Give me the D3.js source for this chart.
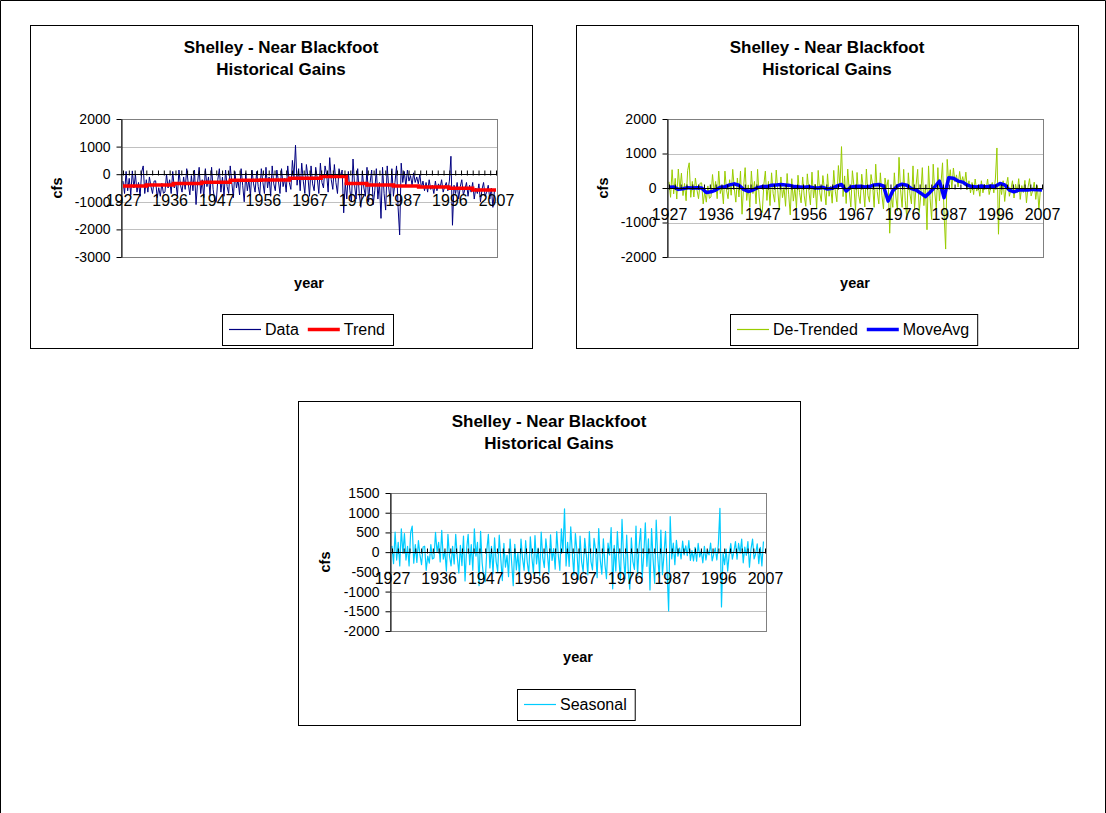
<!DOCTYPE html>
<html>
<head>
<meta charset="utf-8">
<script src="https://cdn.jsdelivr.net/npm/d3@7"></script>
<style>
body { margin: 0; background: #fff; }
svg text { font-family: "Liberation Sans", Arial, sans-serif; fill: #000; }
</style>
</head>
<body>
<svg id="page" width="1106" height="813"></svg>
<script>
// category labels on the x axis (one every 10 position units)
var xLabels = ["1927", "1936", "1947", "1956", "1967", "1976", "1987", "1996", "2007"];

// gains, 3 readings per position unit, 80 units
var gainData = [
  -250, -700, 100, -600, -150, -750, 120, -500, 0, -650, -300, -800, 80, 300, -700,
  -200, -650, -100, -450, -700, -250, -240, -850, -490, -800, -330, -690, -650, 0, -500,
  -200, -700, 100, -500, -300, -800, 150, -400, -650, -100, -550, 200, -350, -750, -50,
  -600, 150, -1100, -300, 250, -700, -200, -850, 200, -450, -100, -750, 250, -550, -950,
  -1000, -200, 200, -650, -100, -800, 150, -450, -700, 300, -300, -850, 100, -500, -200,
  -750, 200, -400, -1000, 50, -600, -200, -800, 150, -350, -650, 100, -450, -750, 200,
  -300, -700, 250, -500, -100, -800, 300, -350, -600, 150, -250, -700, 200, -450, -150,
  -650, 300, -300, -550, 500, -100, 1050, -400, 200, -600, 400, -250, -700, 350, -100,
  -800, 300, -350, -600, 250, -150, -700, 400, -300, -500, 300, 0, -650, 600, -200,
  -550, 350, -300, -700, 200, -100, 150, -1400, -300, -900, 100, -600, -1000, 550, -400,
  -900, 200, -700, -1200, 100, -500, -800, 250, -1000, -300, 150, -1100, -600, 200, -900,
  -300, -1600, 250, -700, -1300, 300, -500, -1000, 200, -800, -300, 300, -1200, -2200, 400,
  -300, 100, -450, 150, -250, -50, -400, 50, -300, -100, -350, 0, -500, -250, -600,
  -300, -650, -200, -550, -400, -700, -250, -600, -350, -500, -200, -650, -450, -300, -600,
  -250, 650, -1850, -400, -700, -300, -900, -450, -200, -750, -550, -300, -800, -400, -650,
  -300, -900, -500, -700, -350, -1000, -550, -300, -800, -650, -400, -900, -500, -1200, -600
];

// trend: step starts (position units) and levels
var trendStart = [0, 5, 10.8, 16.9, 23, 29.5, 35.7, 42.5, 47.9, 52.3, 58, 63.4, 69.9, 75, 80];
var trendLevel = [-427, -390, -341, -293, -220, -207, -146, -85, -341, -390, -427, -463, -512, -573, -573];

var deTrended = [
  180, -270, 530, -170, 280, -320, 550, -70, 430, -220, 130, -370, 510, 730, -270,
  190, -260, 290, -60, -310, 140, 150, -460, -100, -410, 60, -300, -260, 390, -110,
  190, -310, 490, -160, 40, -460, 490, -60, -310, 240, -210, 540, -10, -410, 290,
  -260, 490, -760, 40, 590, -360, 90, -560, 490, -160, 190, -460, 540, -260, -660,
  -710, 90, 490, -360, 190, -510, 440, -160, -410, 520, -80, -630, 320, -280, 20,
  -530, 420, -180, -780, 270, -380, 20, -580, 370, -130, -430, 320, -230, -530, 410,
  -90, -490, 460, -290, 110, -590, 510, -140, -390, 360, -40, -490, 410, -240, 60,
  -440, 510, -90, -400, 650, 50, 1200, -250, 350, -450, 550, -100, -550, 500, 50,
  -650, 450, -200, -450, 400, 0, -550, 550, -210, -410, 390, 90, -560, 690, -110,
  -460, 440, -210, -610, 290, -10, 240, -1310, -210, -560, 440, -260, -660, 890, -60,
  -560, 540, -360, -860, 440, -160, -460, 640, -610, 90, 540, -710, -210, 590, -510,
  90, -1210, 640, -310, -910, 690, -110, -610, 590, -370, 130, 730, -770, -1770, 830,
  130, 530, -20, 580, 180, 380, 30, 480, 130, 330, 80, 460, -40, 210, -140,
  160, -190, 260, -90, 60, -240, 210, -140, 110, -40, 260, -190, 10, 160, -140,
  260, 1160, -1340, 110, -190, 210, -390, 60, 310, -240, -40, 210, -290, 110, -140,
  270, -330, 70, -130, 220, -430, 20, 270, -230, -80, 170, -330, 70, -630, -30
];

// moving average, one reading per position unit
var moveAvg = [
  20, 30, -40, -20, 10, 0, 10, 0, -130, -110,
  -60, 20, 40, 90, 120, 80, -40, -100, -60, 10,
  40, 40, 80, 90, 100, 90, 70, 40, 30, 20,
  40, 10, 0, 20, -30, -10, 60, 100, -90, 30,
  40, 50, 30, 40, 90, 100, 60, -380, -80, 60,
  110, 80, -20, -60, -150, -250, -120, 30, 200, -280,
  300, 280, 200, 170, 80, 40, 30, 60, 30, 60,
  50, 130, 90, -60, -110, -60, -50, -60, -40, -50,
  -60
];

var seasonal = [
  160, -290, 510, -200, 250, -350, 590, -30, 470, -200, 150, -350, 500, 660, -280,
  190, -260, 290, -70, -320, 130, 150, -460, -100, -280, 190, -170, -150, 500, 0,
  250, -250, 550, -180, 20, -480, 450, -100, -350, 150, -300, 450, -130, -530, 170,
  -340, 410, -730, 80, 450, -320, 190, -460, 590, -100, 250, -850, 530, -270, -670,
  -750, 50, 450, -400, 150, -550, 360, -240, -490, 430, -170, -720, 220, -380, -80,
  -620, 330, -270, -850, 200, -450, -20, -620, 330, -160, -460, 290, -250, -550, 390,
  -130, -530, 420, -300, 100, -600, 510, -140, -390, 340, -60, -510, 440, -210, 90,
  -430, 520, -80, -460, 590, -10, 1100, -350, 250, -360, 640, -10, -580, 470, 20,
  -690, 410, -240, -500, 350, -50, -580, 520, -240, -450, 350, 50, -650, 600, -200,
  -560, 340, -310, -670, 230, -70, 620, -930, 170, -480, 520, -180, -720, 830, -120,
  -670, 430, -470, -940, 360, -240, -440, 660, -590, 150, 600, -650, -60, 740, -360,
  340, -960, 600, -190, -790, 810, -140, -640, 560, -570, -70, 530, -490, -1490, 900,
  -170, 230, -320, 300, -100, 100, -170, 280, -70, 160, -90, 290, -210, 40, -220,
  120, -230, 220, -120, 30, -270, 150, -200, 50, -70, 230, -220, -50, 100, -200,
  210, 1110, -1390, -20, -320, 80, -480, -30, 220, -180, 20, 270, -180, 220, -30,
  330, -270, 130, -80, 270, -380, 80, 330, -170, -40, 210, -290, 120, -350, 270
];

var titleLines = ["Shelley - Near Blackfoot", "Historical Gains"];

var svg = d3.select("#page");

// page frame
svg.append("path")
  .attr("d", "M0.5,813 V0.5 H1105.5 V813")
  .attr("fill", "none").attr("stroke", "#000");

function drawChart(cfg) {
  var g = svg.append("g");
  var L = cfg.plot[0], T = cfg.plot[1], R = cfg.plot[2], B = cfg.plot[3];

  g.append("rect")
    .attr("x", cfg.box[0] + 0.5).attr("y", cfg.box[1] + 0.5)
    .attr("width", cfg.box[2]).attr("height", cfg.box[3])
    .attr("fill", "#fff").attr("stroke", "#000");

  var x = d3.scaleLinear().domain([0, 80]).range([L + 2, R - 1]);
  var y = d3.scaleLinear().domain(cfg.yDomain).range([B, T]);

  g.append("rect")
    .attr("x", L + 0.5).attr("y", T + 0.5)
    .attr("width", R - L).attr("height", B - T)
    .attr("fill", "#fff").attr("stroke", "#808080");

  g.selectAll("line.grid")
    .data(cfg.yTicks.slice(1, -1))
    .enter().append("line")
    .attr("class", "grid")
    .attr("x1", L).attr("x2", R)
    .attr("y1", function(d) { return Math.round(y(d)) + 0.5; })
    .attr("y2", function(d) { return Math.round(y(d)) + 0.5; })
    .attr("stroke", "#c0c0c0");

  // series
  cfg.series.forEach(function(s) {
    var line = d3.line()
      .x(function(d, i) { return x(i * s.step); })
      .y(function(d) { return y(d); });
    g.append("path")
      .datum(s.values)
      .attr("d", line)
      .attr("fill", "none")
      .attr("stroke", s.color)
      .attr("stroke-width", s.width)
      .attr("stroke-linejoin", "round");
  });

  if (cfg.trend) {
    var tline = d3.line()
      .curve(d3.curveStepAfter)
      .x(function(d, i) { return x(trendStart[i]); })
      .y(function(d) { return y(d); });
    g.append("path")
      .datum(trendLevel)
      .attr("d", tline)
      .attr("fill", "none")
      .attr("stroke", "#ff0000")
      .attr("stroke-width", 3.5);
  }

  if (cfg.avg) {
    var aline = d3.line()
      .x(function(d, i) { return x(i); })
      .y(function(d) { return y(d); });
    g.append("path")
      .datum(moveAvg)
      .attr("d", aline)
      .attr("fill", "none")
      .attr("stroke", "#0000ff")
      .attr("stroke-width", 3.5)
      .attr("stroke-linejoin", "round");
  }

  // category axis along zero
  var y0 = Math.round(y(0)) + 0.5;
  g.append("line")
    .attr("x1", L).attr("x2", R)
    .attr("y1", y0).attr("y2", y0)
    .attr("stroke", "#000");
  var tickAxis = g.append("g")
    .attr("transform", "translate(0," + y0 + ")")
    .call(d3.axisTop(x).tickValues(d3.range(0, 80.01, 1.25)).tickSize(4).tickFormat(""));
  tickAxis.select(".domain").remove();
  tickAxis.selectAll("line").attr("stroke", "#000").attr("y2", -4).attr("y1", 1);

  var labAxis = g.append("g")
    .attr("transform", "translate(0," + y0 + ")")
    .call(d3.axisBottom(x)
      .tickValues(d3.range(0, 81, 10))
      .tickSize(0)
      .tickPadding(20)
      .tickFormat(function(d, i) { return xLabels[i]; }));
  labAxis.select(".domain").remove();
  labAxis.selectAll("text")
    .attr("font-size", "16px")
    .attr("font-family", "Liberation Sans, Arial, sans-serif")
    .attr("fill", "#000");

  // value axis
  var yAxis = g.append("g")
    .attr("transform", "translate(" + (L + 0.5) + ",0)")
    .call(d3.axisLeft(y)
      .tickValues(cfg.yTicks)
      .tickSize(5)
      .tickSizeOuter(0)
      .tickPadding(6)
      .tickFormat(function(d) { return String(d); }));
  yAxis.select(".domain").attr("stroke", "#000");
  yAxis.selectAll("line").attr("stroke", "#000");
  yAxis.selectAll("text")
    .attr("font-size", "14px")
    .attr("font-family", "Liberation Sans, Arial, sans-serif")
    .attr("fill", "#000");

  // title
  var cx = cfg.box[0] + cfg.box[2] / 2;
  g.selectAll("text.title")
    .data(titleLines)
    .enter().append("text")
    .attr("class", "title")
    .attr("x", cx)
    .attr("y", function(d, i) { return cfg.titleY + i * 22; })
    .attr("text-anchor", "middle")
    .attr("font-size", "17px")
    .attr("font-weight", "bold")
    .text(function(d) { return d; });

  // axis titles
  g.append("text")
    .attr("x", (L + R) / 2).attr("y", cfg.xTitleY)
    .attr("text-anchor", "middle")
    .attr("font-size", "14.5px").attr("font-weight", "bold")
    .text("year");
  g.append("text")
    .attr("transform", "translate(" + cfg.yTitleX + "," + ((T + B) / 2) + ") rotate(-90)")
    .attr("text-anchor", "middle")
    .attr("dy", "0.35em")
    .attr("font-size", "14.5px").attr("font-weight", "bold")
    .text("cfs");

  // legend
  var lg = g.append("g");
  var lx = cfg.legend[0] + 7;
  var ly = cfg.legend[1];
  var lh = 31;
  var box = lg.append("rect")
    .attr("x", cfg.legend[0] + 0.5).attr("y", ly + 0.5)
    .attr("height", lh).attr("fill", "#fff").attr("stroke", "#000");
  cfg.legendItems.forEach(function(it, i) {
    lg.append("line")
      .attr("x1", lx).attr("x2", lx + 32)
      .attr("y1", ly + 15.5).attr("y2", ly + 15.5)
      .attr("stroke", it.color).attr("stroke-width", it.width);
    var t = lg.append("text")
      .attr("x", lx + 36).attr("y", ly + 21)
      .attr("font-size", "16px")
      .text(it.name);
    lx = lx + 36 + t.node().getComputedTextLength() + 9;
  });
  box.attr("width", lx - cfg.legend[0] - 1);
}

drawChart({
  box: [30, 25, 502, 323],
  plot: [121, 119, 497, 257],
  yDomain: [-3000, 2000],
  yTicks: [2000, 1000, 0, -1000, -2000, -3000],
  titleY: 53, xTitleY: 288, yTitleX: 57,
  series: [{ values: gainData, step: 1 / 3, color: "#000080", width: 1 }],
  trend: true,
  legend: [222, 314],
  legendItems: [{ name: "Data", color: "#000080", width: 1.2 }, { name: "Trend", color: "#ff0000", width: 3.5 }]
});

drawChart({
  box: [576, 25, 502, 323],
  plot: [667, 119, 1043, 257],
  yDomain: [-2000, 2000],
  yTicks: [2000, 1000, 0, -1000, -2000],
  titleY: 53, xTitleY: 288, yTitleX: 603,
  series: [{ values: deTrended, step: 1 / 3, color: "#99cc00", width: 1 }],
  avg: true,
  legend: [730, 314],
  legendItems: [{ name: "De-Trended", color: "#99cc00", width: 1.2 }, { name: "MoveAvg", color: "#0000ff", width: 3.5 }]
});

drawChart({
  box: [298, 401, 502, 324],
  plot: [390, 493, 766, 631],
  yDomain: [-2000, 1500],
  yTicks: [1500, 1000, 500, 0, -500, -1000, -1500, -2000],
  titleY: 427, xTitleY: 662, yTitleX: 325,
  series: [{ values: seasonal, step: 1 / 3, color: "#00ccff", width: 1.2 }],
  legend: [517, 689],
  legendItems: [{ name: "Seasonal", color: "#00ccff", width: 1.2 }]
});
</script>
</body>
</html>
